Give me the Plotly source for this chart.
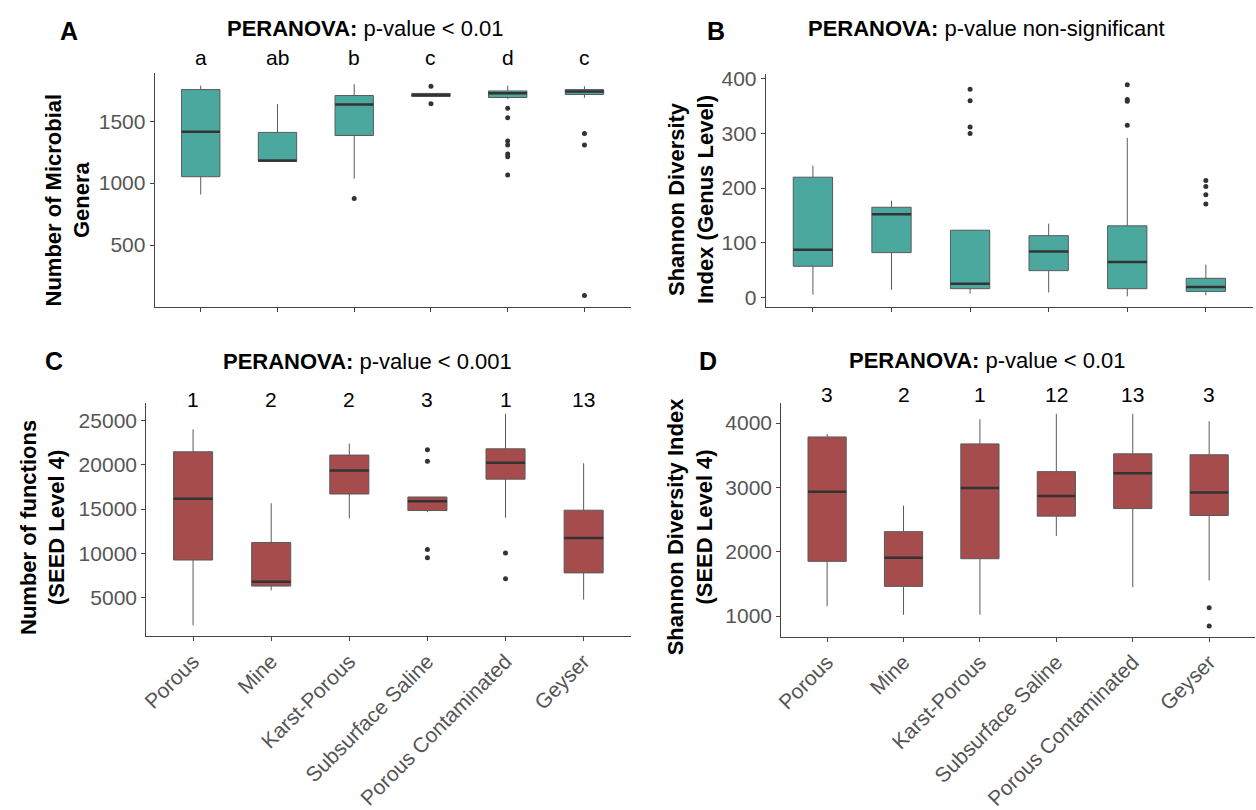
import plotly.graph_objects as go

W, H = 1256, 810

categories = ["Porous", "Mine", "Karst-Porous", "Subsurface Saline", "Porous Contaminated", "Geyser"]

# Panel A: Number of microbial genera
a_low = [908, 1175, 1036, 1700, 1680, 1690]
a_q1 = [1052, 1175, 1385, 1700, 1692, 1716]
a_med = [1415, 1183, 1636, 1712, 1727, 1740]
a_q3 = [1756, 1410, 1708, 1725, 1745, 1756]
a_high = [1788, 1638, 1799, 1725, 1788, 1783]
a_out_cat = [2, 3, 3, 4, 4, 4, 4, 4, 4, 4, 5, 5, 5]
a_out_val = [876, 1783, 1641, 1606, 1529, 1341, 1309, 1235, 1213, 1065, 1401, 1308, 93]
a_letters = ["a", "ab", "b", "c", "d", "c"]

# Panel B: Shannon diversity (genus level)
b_low = [5, 14, 7, 9, 2, 4]
b_q1 = [57, 82, 16, 49, 16, 11]
b_med = [87, 152, 25, 84, 65, 19]
b_q3 = [220, 165, 123, 113, 131, 35]
b_high = [241, 177, 123, 135, 292, 60]
b_out_cat = [2, 2, 2, 2, 4, 4, 4, 4, 5, 5, 5, 5]
b_out_val = [381, 360, 312, 300, 389, 362, 359, 315, 214, 203, 188, 171]

# Panel C: Number of functions (SEED level 4)
c_low = [1874, 5821, 13940, 14647, 14014, 4778]
c_q1 = [9247, 6306, 16695, 14833, 18371, 7795]
c_med = [16174, 6790, 19339, 15876, 20233, 11742]
c_q3 = [21462, 11221, 21090, 16360, 21797, 14870]
c_high = [23994, 15653, 22393, 16360, 25745, 20159]
c_out_cat = [3, 3, 3, 3, 4, 4]
c_out_val = [21686, 20382, 10440, 9508, 10030, 7125]
c_letters = ["1", "2", "2", "3", "1", "13"]

# Panel D: Shannon diversity (SEED level 4)
d_low = [1154, 1021, 1021, 2246, 1451, 1554]
d_q1 = [1851, 1462, 1892, 2554, 2672, 2564]
d_med = [2933, 1908, 2990, 2867, 3221, 2923]
d_q3 = [3785, 2313, 3677, 3246, 3523, 3508]
d_high = [3831, 2718, 4062, 4144, 4144, 4031]
d_out_cat = [5, 5]
d_out_val = [1128, 846]
d_letters = ["3", "2", "1", "12", "13", "3"]

TEAL = "#4BA89F"
RED = "#A64C4C"
FONT = "Liberation Sans, Arial, sans-serif"
BOX_W = 0.5

def px(v):
    return v / W

def py(v):
    return 1 - v / H

panels = [
    dict(low=a_low, q1=a_q1, med=a_med, q3=a_q3, high=a_high, oc=a_out_cat, ov=a_out_val,
         color=TEAL, xdom=[px(148.5), px(627)], ydom=[py(303), py(67)], yr=[2, 1888],
         ytv=[500, 1000, 1500], labels=False,
         title="<b>PERANOVA:</b> p-value &lt; 0.01", tpos=(361, 22),
         letter="A", lpos=(62, 24), ytitle="Number of Microbial<br>Genera", ytpos=(61, 195),
         marks=a_letters, mark_y=51),
    dict(low=b_low, q1=b_q1, med=b_med, q3=b_q3, high=b_high, oc=b_out_cat, ov=b_out_val,
         color=TEAL, xdom=[px(763), px(1253)], ydom=[py(303.3), py(68)], yr=[-17.4, 408.4],
         ytv=[0, 100, 200, 300, 400], labels=False,
         title="<b>PERANOVA:</b> p-value non-significant", tpos=(985, 22),
         letter="B", lpos=(713, 24), ytitle="Shannon Diversity<br>Index (Genus Level)", ytpos=(688, 195),
         marks=None, mark_y=None),
    dict(low=c_low, q1=c_q1, med=c_med, q3=c_q3, high=c_high, oc=c_out_cat, ov=c_out_val,
         color=RED, xdom=[px(140), px(627)], ydom=[py(636), py(400.7)], yr=[680, 26939],
         ytv=[5000, 10000, 15000, 20000, 25000], labels=True,
         title="<b>PERANOVA:</b> p-value &lt; 0.001", tpos=(363, 358),
         letter="C", lpos=(47, 358), ytitle="Number of functions<br>(SEED Level 4)", ytpos=(36, 526),
         marks=c_letters, mark_y=397),
    dict(low=d_low, q1=d_q1, med=d_med, q3=d_q3, high=d_high, oc=d_out_cat, ov=d_out_val,
         color=RED, xdom=[px(778.6), px(1255)], ydom=[py(636.7), py(400.7)], yr=[681, 4309],
         ytv=[1000, 2000, 3000, 4000], labels=True,
         title="<b>PERANOVA:</b> p-value &lt; 0.01", tpos=(986, 357),
         letter="D", lpos=(705, 358), ytitle="Shannon Diversity Index<br>(SEED Level 4)", ytpos=(687, 526),
         marks=d_letters, mark_y=392),
]

fig = go.Figure()
annotations = []
positions = list(range(len(categories)))

for k, p in enumerate(panels, start=1):
    xa = "x" if k == 1 else f"x{k}"
    ya = "y" if k == 1 else f"y{k}"
    fig.add_trace(go.Box(
        x=positions, q1=p["q1"], median=p["med"], q3=p["q3"],
        lowerfence=p["low"], upperfence=p["high"],
        width=BOX_W, whiskerwidth=0, fillcolor=p["color"],
        line=dict(color="#5a5a5a", width=1), boxpoints=False,
        xaxis=xa, yaxis=ya, showlegend=False, hoverinfo="skip"))
    # thick median lines
    mx, my = [], []
    for i, m in zip(positions, p["med"]):
        mx += [i - BOX_W / 2, i + BOX_W / 2, None]
        my += [m, m, None]
    fig.add_trace(go.Scatter(x=mx, y=my, mode="lines", line=dict(color="#333333", width=2.5),
                             xaxis=xa, yaxis=ya, showlegend=False, hoverinfo="skip"))
    fig.add_trace(go.Scatter(x=p["oc"], y=p["ov"], mode="markers",
                             marker=dict(color="#333333", size=5),
                             xaxis=xa, yaxis=ya, showlegend=False, hoverinfo="skip"))

    xkey = "xaxis" if k == 1 else f"xaxis{k}"
    ykey = "yaxis" if k == 1 else f"yaxis{k}"
    fig.layout[xkey] = dict(
        domain=p["xdom"], anchor=ya, range=[-0.6, 5.6],
        tickmode="array", tickvals=positions, ticktext=categories,
        showticklabels=p["labels"], tickangle=-45,
        ticks="outside", ticklen=4, tickcolor="#444444", tickwidth=1,
        showline=True, linecolor="#444444", linewidth=1,
        showgrid=False, zeroline=False,
        tickfont=dict(family=FONT, size=21, color="#555555"))
    fig.layout[ykey] = dict(
        domain=p["ydom"], anchor=xa, range=p["yr"],
        tickmode="array", tickvals=p["ytv"], ticktext=[str(v) for v in p["ytv"]],
        ticks="outside", ticklen=4, tickcolor="#444444", tickwidth=1,
        showline=True, linecolor="#444444", linewidth=1,
        showgrid=False, zeroline=False,
        tickfont=dict(family=FONT, size=21, color="#555555"))

    annotations.append(dict(text=p["title"], xref="paper", yref="paper",
                            x=px(p["tpos"][0]), y=py(p["tpos"][1]),
                            xanchor="center", yanchor="middle", showarrow=False,
                            font=dict(family=FONT, size=22, color="black")))
    annotations.append(dict(text="<b>" + p["letter"] + "</b>", xref="paper", yref="paper",
                            x=px(p["lpos"][0]), y=py(p["lpos"][1]),
                            xanchor="center", yanchor="middle", showarrow=False,
                            font=dict(family=FONT, size=25, color="black")))
    annotations.append(dict(text="<b>" + p["ytitle"] + "</b>", xref="paper", yref="paper",
                            x=px(p["ytpos"][0]), y=py(p["ytpos"][1]), textangle=-90,
                            xanchor="center", yanchor="middle", showarrow=False,
                            font=dict(family=FONT, size=22, color="black")))
    if p["marks"]:
        for i, t in zip(positions, p["marks"]):
            annotations.append(dict(text=t, xref=xa, yref="paper", x=i, y=py(p["mark_y"]),
                                    xanchor="center", yanchor="middle", showarrow=False,
                                    font=dict(family=FONT, size=21, color="black")))

fig.update_layout(
    width=W, height=H, margin=dict(l=0, r=0, t=0, b=0),
    paper_bgcolor="white", plot_bgcolor="white",
    annotations=annotations, showlegend=False)

fig.write_html("out.html", config={"displayModeBar": False},
               post_script="document.body.style.margin='0px';")
